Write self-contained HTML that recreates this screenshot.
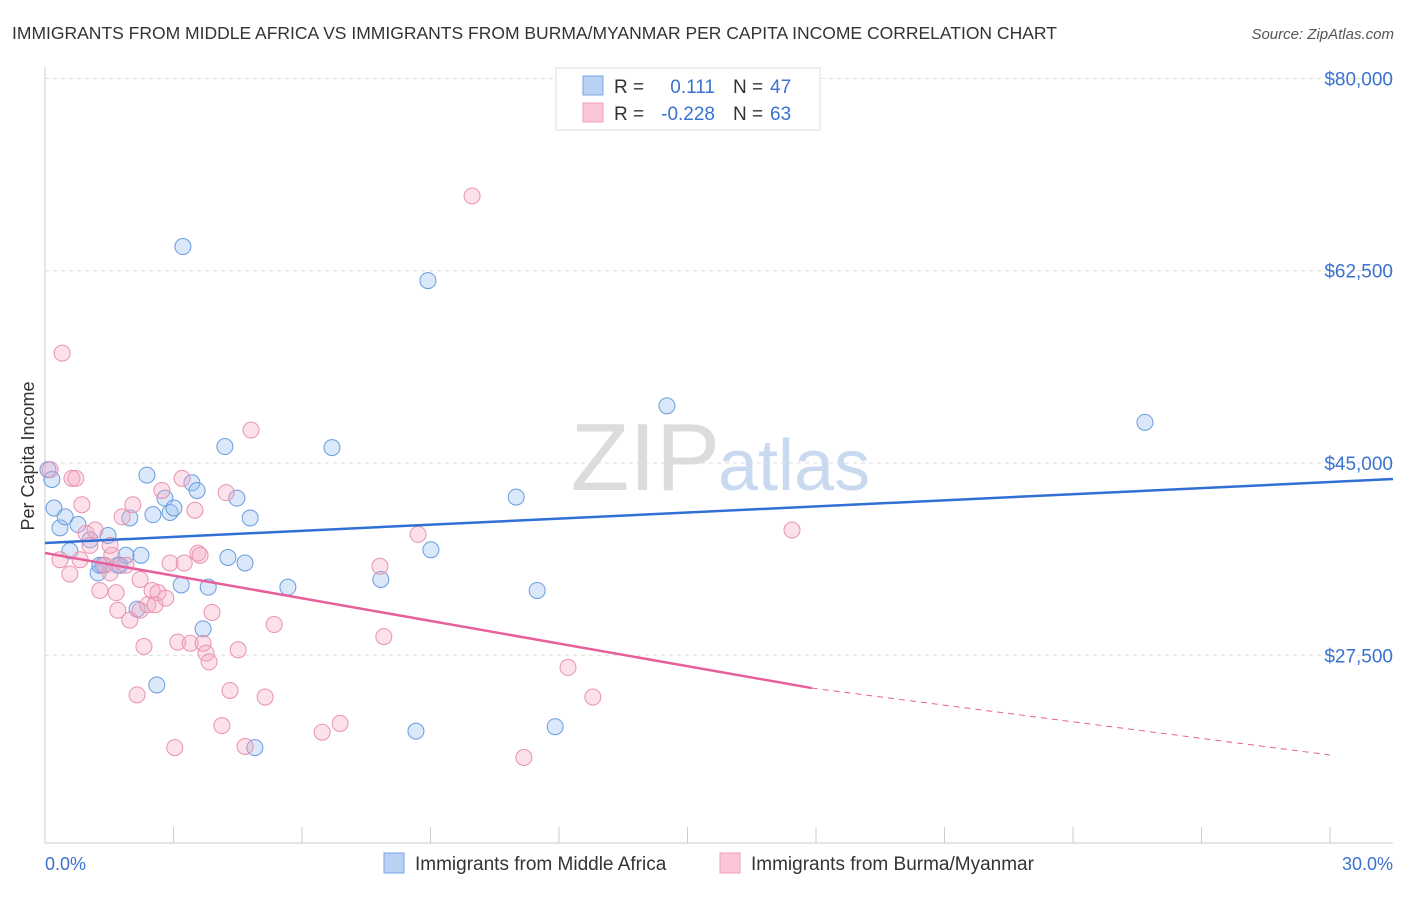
<!DOCTYPE html>
<html><head><meta charset="utf-8"><style>
body{margin:0;background:#fff;font-family:"Liberation Sans",sans-serif;}
svg text{font-family:"Liberation Sans",sans-serif;}
</style></head><body>
<svg width="1406" height="892" xmlns="http://www.w3.org/2000/svg" id="chart">
<text x="12" y="39" font-size="17.5" fill="#333">IMMIGRANTS FROM MIDDLE AFRICA VS IMMIGRANTS FROM BURMA/MYANMAR PER CAPITA INCOME CORRELATION CHART</text>
<text x="1394" y="39" font-size="15" fill="#555" font-style="italic" text-anchor="end">Source: ZipAtlas.com</text>
<text x="720" y="490" font-size="96" fill="#dcdcdc" text-anchor="end" font-family="Liberation Serif">ZIP</text>
<text x="718" y="490" font-size="72" fill="#c9daf0">atlas</text>
<g id="grid"></g>
<g id="axes"></g>
<g id="pts"></g>
<g id="trend"></g>
<text transform="translate(34,456) rotate(-90)" font-size="18" fill="#333" text-anchor="middle">Per Capita Income</text>
<text x="45" y="870" font-size="18" fill="#3a72d0">0.0%</text>
<text x="1393" y="870" font-size="18" fill="#3a72d0" text-anchor="end">30.0%</text>
<g>
<rect x="556" y="68" width="264" height="62" fill="#fff" stroke="#ddd"/>
<rect x="583" y="76" width="20" height="19" fill="#b9d2f3" stroke="#7aa6e6"/>
<rect x="583" y="103" width="20" height="19" fill="#fac6d5" stroke="#eea0b8"/>
<text x="614" y="93" font-size="19" fill="#333">R =</text>
<text x="715" y="93" font-size="19" fill="#3a72d0" text-anchor="end">0.111</text>
<text x="733" y="93" font-size="19" fill="#333">N =</text>
<text x="770" y="93" font-size="19" fill="#3a72d0">47</text>
<text x="614" y="120" font-size="19" fill="#333">R =</text>
<text x="715" y="120" font-size="19" fill="#3a72d0" text-anchor="end">-0.228</text>
<text x="733" y="120" font-size="19" fill="#333">N =</text>
<text x="770" y="120" font-size="19" fill="#3a72d0">63</text>
</g>
<g>
<rect x="384" y="853" width="20" height="20" fill="#b9d2f3" stroke="#7aa6e6"/>
<text x="415" y="870" font-size="19" fill="#333">Immigrants from Middle Africa</text>
</g>
<g>
<rect x="720" y="853" width="20" height="20" fill="#fac6d5" stroke="#eea0b8"/>
<text x="751" y="870" font-size="19" fill="#333">Immigrants from Burma/Myanmar</text>
</g>
</svg>
<script>
const yTicks=[27500,45000,62500,80000];
const yTickLabels=["$27,500","$45,000","$62,500","$80,000"];
const xTicks=[0,3,6,9,12,15,18,21,24,27,30];
const blueX=[0.21,0.35,0.47,0.58,0.77,1.05,1.24,1.35,1.47,1.70,1.89,1.98,2.15,2.24,2.38,2.52,2.61,2.80,2.92,3.01,3.18,3.22,3.43,3.55,3.69,3.81,4.20,4.27,4.48,4.67,4.79,4.90,5.67,6.70,7.84,8.66,8.94,9.01,11.0,11.49,11.91,14.52,25.68,0.07,0.16,1.28,1.75];
const blueY=[40900,39100,40100,37000,39400,38000,35000,35700,38400,35700,36600,40000,31700,36600,43900,40300,24800,41800,40500,40900,33900,64700,43200,42500,29900,33700,46500,36400,41800,35900,40000,19100,33700,46400,34400,20600,61600,37100,41900,33400,21000,50200,48700,44400,43500,35700,35700];
const pinkX=[0.12,0.40,0.63,0.72,0.58,0.86,0.96,1.05,1.17,1.28,1.40,1.52,1.56,1.66,1.70,1.80,1.89,1.98,2.05,2.15,2.22,2.31,2.40,2.50,2.57,2.64,2.73,2.82,2.92,3.03,3.10,3.20,3.25,3.39,3.50,3.57,3.69,3.76,3.83,3.90,4.13,4.23,4.32,4.51,4.67,4.81,5.14,5.35,6.47,6.89,7.82,7.91,8.71,9.97,11.18,12.21,12.79,17.44,0.35,0.82,3.62,2.22,1.52];
const pinkY=[44400,55000,43600,43600,34900,41200,38600,37500,38900,33400,35700,35000,36600,33200,31600,40100,35700,30700,41200,23900,31600,28300,32100,33400,32100,33200,42500,32700,35900,19100,28700,43600,35900,28600,40700,36800,28600,27700,26900,31400,21100,42300,24300,28000,19200,48000,23700,30300,20500,21300,35600,29200,38500,69300,18200,26400,23700,38900,36200,36200,36600,34400,37500];
const blueTrendX=[0,31.47];
const blueTrendY=[37720,43540];
const pinkTrendX=[0,17.9,30];
const pinkTrendY=[36810,24520,18430];

const NS="http://www.w3.org/2000/svg";
const X=v=>45+v/30*1285;
const Y=v=>463-(v-45000)*192.3/17500;
function mk(tag,attrs,parent){const e=document.createElementNS(NS,tag);for(const k in attrs)e.setAttribute(k,attrs[k]);parent.appendChild(e);return e;}
const grid=document.getElementById('grid'),axes=document.getElementById('axes'),pts=document.getElementById('pts'),trend=document.getElementById('trend');
yTicks.forEach((t,i)=>{
  const l=mk('line',{x1:45,x2:1393,y1:Y(t),y2:Y(t),stroke:'#ddd','stroke-dasharray':'4,4'},grid);
  
  
  const tx=mk('text',{x:1393,y:Y(t)+7,'font-size':19,fill:'#3a72d0','text-anchor':'end'},axes);
  tx.textContent=yTickLabels[i];
  
  
});
const ya=mk('line',{x1:45,x2:45,y1:67,y2:843,stroke:'#ccc'},axes);


const xa=mk('line',{x1:45,x2:1393,y1:843,y2:843,stroke:'#ccc'},axes);


xTicks.forEach(t=>{
  const l=mk('line',{x1:X(t),x2:X(t),y1:827,y2:843,stroke:'#ccc'},axes);
  
  
});
blueX.forEach((x,i)=>{
  const c=mk('circle',{cx:X(x),cy:Y(blueY[i]),r:8,fill:'rgba(150,190,240,0.35)',stroke:'#6a9ce0','stroke-width':1},pts);
  
  
});
pinkX.forEach((x,i)=>{
  const c=mk('circle',{cx:X(x),cy:Y(pinkY[i]),r:8,fill:'rgba(245,170,195,0.35)',stroke:'#e893b0','stroke-width':1},pts);
  
  
});
const bl=mk('line',{x1:X(blueTrendX[0]),y1:Y(blueTrendY[0]),x2:X(blueTrendX[1]),y2:Y(blueTrendY[1]),stroke:'#2f6fd6','stroke-width':2.5},trend);


const pl=mk('line',{x1:X(pinkTrendX[0]),y1:Y(pinkTrendY[0]),x2:X(pinkTrendX[1]),y2:Y(pinkTrendY[1]),stroke:'#e8609a','stroke-width':2.5},trend);


const pd=mk('line',{x1:X(pinkTrendX[1]),y1:Y(pinkTrendY[1]),x2:X(pinkTrendX[2]),y2:Y(pinkTrendY[2]),stroke:'#e8609a','stroke-width':1,'stroke-dasharray':'6,5'},trend);


</script>
</body></html>
